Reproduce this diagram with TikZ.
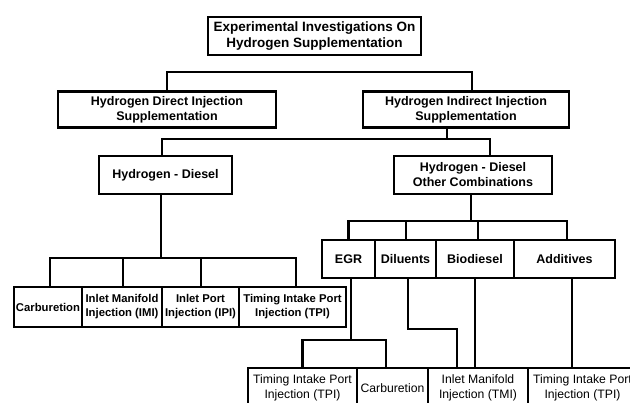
\documentclass[tikz,border=0pt]{standalone}
\usepackage{fontspec}
\setmainfont{Liberation Sans}
\tikzset{
    box/.style={draw, line width=2.5pt, align=center, inner sep=0pt, minimum height=36,
        font=\bfseries\fontsize{12.5}{15}\selectfont},
    smallbox/.style={box, minimum height=40, font=\bfseries\fontsize{11.3}{14}\selectfont},
    plainbox/.style={box, minimum height=40, font=\fontsize{12.2}{15}\selectfont},
    link/.style={line width=2.5pt},
}
\begin{document}
\begin{tikzpicture}[x=1pt, y=-1pt]
        \clip (0, 0) rectangle (630, 403);
        \node [box, minimum width=213, minimum height=38, font=\bfseries\fontsize{13.5}{15.5}\selectfont] (top) at (314.5, 36) {Experimental Investigations On\\Hydrogen Supplementation};
        \node [box, minimum width=218] (direct) at (167, 109.5) {Hydrogen Direct Injection\\Supplementation};
        \node [box, minimum width=206] (indirect) at (466, 109.5) {Hydrogen Indirect Injection\\Supplementation};
        \node [box, minimum width=133, minimum height=38] (hd) at (165.5, 175) {Hydrogen - Diesel};
        \node [box, minimum width=158, minimum height=38] (hdo) at (473, 175) {Hydrogen - Diesel\\Other Combinations};
        \node [smallbox, minimum width=68] (carb1) at (48, 307) {Carburetion};
        \node [smallbox, minimum width=80] (imi) at (122, 307) {Inlet Manifold\\Injection (IMI)};
        \node [smallbox, minimum width=77] (ipi) at (200.5, 307) {Inlet Port\\Injection (IPI)};
        \node [smallbox, minimum width=107] (tpi1) at (292.5, 307) {Timing Intake Port\\Injection (TPI)};
        \node [box, minimum width=53, minimum height=38] (egr) at (348.5, 259) {EGR};
        \node [box, minimum width=61, minimum height=38] (dil) at (405.5, 259) {Diluents};
        \node [box, minimum width=78, minimum height=38] (bio) at (475, 259) {Biodiesel};
        \node [box, minimum width=101, minimum height=38] (add) at (564.5, 259) {Additives};
        \node [plainbox, minimum width=109] (tpi2) at (302.5, 388) {Timing Intake Port\\Injection (TPI)};
        \node [plainbox, minimum width=71] (carb2) at (392.5, 388) {Carburetion};
        \node [plainbox, minimum width=100] (tmi) at (478, 388) {Inlet Manifold\\Injection (TMI)};
        \node [plainbox, minimum width=109] (tpi3) at (582.5, 388) {Timing Intake Port\\Injection (TPI)};
        \coordinate (1) at (0, 72);
        \coordinate (2) at (0, 139);
        \coordinate (3) at (0, 258);
        \coordinate (4) at (0, 221);
        \coordinate (5) at (0, 340);
        \coordinate (6) at (0, 329);
        \draw [link] (direct.north) -- (direct.north |- 1) -| ([xshift=6pt]indirect.north);
        \draw [link] ([xshift=-19pt]indirect.south) -- ([xshift=-19pt]indirect.south |- 2);
        \draw [link] ([xshift=-3.5pt]hd.north) |- ([xshift=17pt]hdo.north |- 2) -- ([xshift=17pt]hdo.north);
        \draw [link] ([xshift=-4.5pt]hd.south) -- ([xshift=-4.5pt]hd.south |- 3);
        \draw [link] ([xshift=2pt]carb1.north) |- ([xshift=3.5pt]tpi1.north |- 3) -- ([xshift=3.5pt]tpi1.north);
        \foreach \n/\s in {imi/1, ipi/0.5}
            \draw [link] ([xshift=\s pt]\n.north) -- ([xshift=\s pt]\n.north |- 3);
        \draw [link] ([xshift=-2pt]hdo.south) -- ([xshift=-2pt]hdo.south |- 4);
        \draw [link] (egr.north) |- ([xshift=2.5pt]add.north |- 4) -- ([xshift=2.5pt]add.north);
        \foreach \n/\s in {dil/0.5, bio/3}
            \draw [link] ([xshift=\s pt]\n.north) -- ([xshift=\s pt]\n.north |- 4);
        \draw [link] ([xshift=2.5pt]egr.south) -- ([xshift=2.5pt]egr.south |- 5);
        \draw [link] (tpi2.north) |- ([xshift=-6.5pt]carb2.north |- 5) -- ([xshift=-6.5pt]carb2.north);
        \draw [link] ([xshift=2.5pt]dil.south) |- ([xshift=-21pt]tmi.north |- 6) -- ([xshift=-21pt]tmi.north);
        \draw [link] (bio.south) -- ([xshift=-3pt]tmi.north);
        \draw [link] ([xshift=7.5pt]add.south) -- ([xshift=-10.5pt]tpi3.north);
    \end{tikzpicture}
\end{document}
